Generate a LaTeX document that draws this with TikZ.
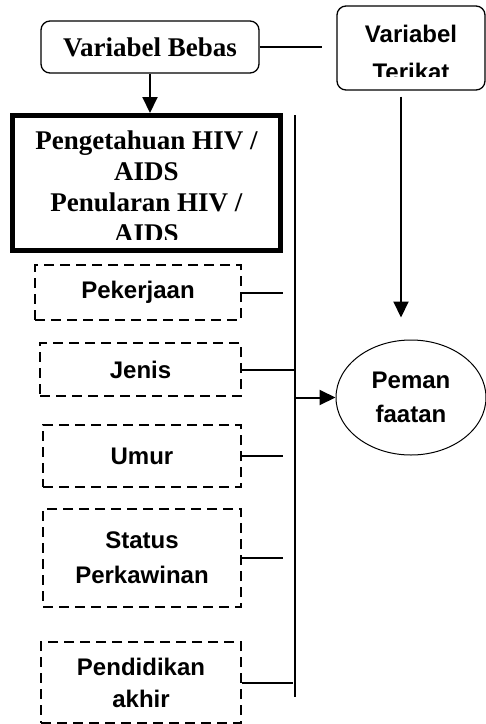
\documentclass[tikz,border=0pt]{standalone}
\usepackage{fontspec}
\setmainfont{Liberation Serif}
\setsansfont{Liberation Sans}
\usetikzlibrary{arrows.meta, shapes.geometric}

\begin{document}
\begin{tikzpicture}[x=1pt, y=-1pt, >={Triangle[width=15pt,length=16pt]},
	serifbf/.style={font=\bfseries\fontsize{27}{31}\selectfont, align=center},
	sansbf/.style={font=\sffamily\bfseries\fontsize{24}{35}\selectfont, align=center},
	roundbox/.style={draw, line width=1.3pt, rounded corners=9pt, inner sep=0pt},
	dashbox/.style={draw, line width=2.6pt, dash pattern=on 10pt off 6pt, inner sep=0pt, sansbf},
	link/.style={line width=2pt}]
\useasboundingbox (0,0) rectangle (486,724);
%========================
% Top: variable headers
%========================
\node[roundbox, serifbf, minimum width=218pt, minimum height=52pt] (bebas) at (150,47) {Variabel Bebas};
\node[roundbox, minimum width=148pt, minimum height=84pt] (terikat) at (411,48) {};
\begin{scope}
	\clip (337,6) rectangle (485,76);
	% anchor=base is the baseline of the last line
	\node[sansbf, anchor=base, inner sep=0pt, font=\sffamily\bfseries\fontsize{24}{38}\selectfont] (terikatText) at (411,80) {Variabel\\Terikat};
\end{scope}

%========================
% Left: independent variables
%========================
\node[draw, line width=5pt, minimum width=268pt, minimum height=135pt, inner sep=0pt] (pengetahuan) at (146.5,183) {};
\begin{scope}
	\clip (15,118) rectangle (278,239);
	\node[serifbf, anchor=base, inner sep=0pt] (pengetahuanText) at (146.5,242) {Pengetahuan HIV /\\AIDS\\Penularan HIV /\\AIDS};
\end{scope}
% confounders (dashed)
\node[dashbox, minimum width=206pt, minimum height=55pt] (pekerjaan) at (138,292.5) {Pekerjaan};
\node[dashbox, minimum width=201pt, minimum height=53pt] (jenis) at (140.5,369.5) {Jenis};
\node[dashbox, minimum width=198pt, minimum height=62pt] (umur) at (142,456) {Umur};
\node[dashbox, minimum width=198pt, minimum height=98pt] (status) at (142,558) {Status\\Perkawinan};
\node[dashbox, minimum width=200pt, minimum height=81pt, font=\sffamily\bfseries\fontsize{24}{32}\selectfont] (pendidikan) at (141,682.5) {Pendidikan\\akhir};

%========================
% Right: dependent variable
%========================
\node[draw, ellipse, line width=1pt, minimum width=150pt, minimum height=115pt, inner sep=0pt, sansbf, font=\sffamily\bfseries\fontsize{24}{34}\selectfont] (pemanfaatan) at (411,397.5) {Peman\\faatan};

% connectors
\coordinate (busTop) at (295,115);
\coordinate (busMid) at (295,397.5);
\coordinate (busBot) at (295,697);
\draw[line width=1.5pt] (bebas.east) -- ([xshift=-14pt]terikat.west |- bebas.east);
\draw[link,->] (bebas.south) -- (bebas.south |- pengetahuan.north);
\draw[link] (busTop) -- (busBot);
\foreach \n/\l in {pekerjaan/41, jenis/52, umur/41, status/41, pendidikan/51}
	\draw[link] (\n.east) -- ++(\l,0);
\draw[link,->] (busMid) -- (pemanfaatan.west);
\draw[link,->] ([xshift=-10pt,yshift=-6pt]terikat.south) -- ([xshift=-10pt,yshift=22pt]pemanfaatan.north);
\end{tikzpicture}
\end{document}
